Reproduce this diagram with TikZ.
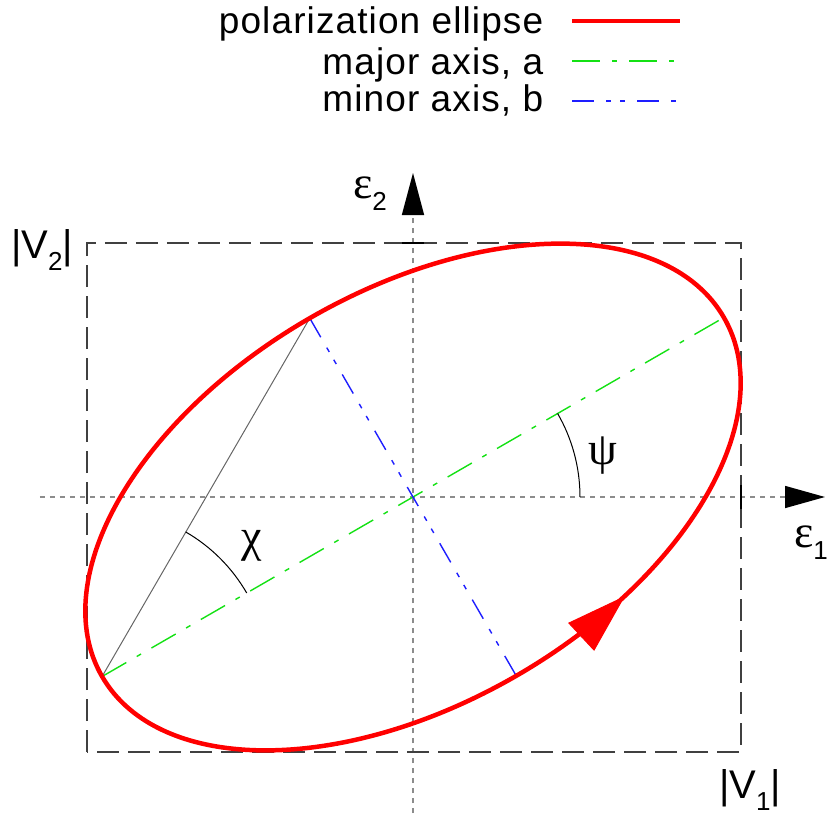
\documentclass[tikz,border=0pt]{standalone}
\usepackage{fontspec}
\setmainfont{Liberation Sans}
\newfontfamily\greekfont{Liberation Serif}
\newfontfamily\legendfont[LetterSpace=3]{Liberation Sans}
\usetikzlibrary{arrows.meta}

\definecolor{majgreen}{RGB}{20,225,20}
\definecolor{minblue}{RGB}{30,30,255}
\newcommand{\lowsub}[1]{\raisebox{-0.3em}{\fontsize{26}{26}\selectfont #1}}
\newcommand{\bigreek}[1]{{\fontsize{46}{50}\selectfont\greekfont #1}}

\tikzset{
  ellipseline/.style={red, line width=4.5pt},
  majorline/.style={majgreen, line width=1.4pt, dash pattern=on 28pt off 12pt on 5pt off 12pt},
  minorline/.style={minblue, line width=1.4pt, dash pattern=on 22pt off 12pt on 5pt off 9pt on 5pt off 12pt},
  axisline/.style={black!45, line width=1.5pt, dash pattern=on 5pt off 5pt},
  boxline/.style={black!75, line width=1.2pt, dash pattern=on 22pt off 9pt},
  legendtext/.style={anchor=base east, font=\fontsize{37}{44}\selectfont\legendfont}
}

\begin{document}
\begin{tikzpicture}[x=1pt,y=1pt,thick,font=\fontsize{40}{48}\selectfont]
\useasboundingbox (-413,-318) rectangle (414,497);
% points of the ellipse
\coordinate (O) at (0,0);
\coordinate (V) at (210:359);
\coordinate (W) at (30:359);
\coordinate (M) at (120:206.5);
\coordinate (N) at (-60:206.5);
% axes
\coordinate (xstart) at (-373,0);
\coordinate (xend) at (412,0);
\coordinate (ystart) at (0,-316);
\coordinate (yend) at (0,324);
\draw[axisline,-{Triangle[length=40pt,width=22pt,color=black]}] (xstart) -- (xend);
\draw[axisline,-{Triangle[length=42pt,width=22pt,color=black]}] (ystart) -- (yend);
% bounding box |V1| x |V2|
\draw[boxline] (-326,-255) rectangle (328,254);
\draw[black, line width=2pt] (-11,254) -- (11,254);
\draw[black, line width=2pt] (328,-12) -- (328,12);
% axes of the ellipse
\draw[majorline] (V) -- (W);
\draw[minorline] (M) -- (N);
\draw[black!60, line width=1pt] (V) -- (M);
% angles
\draw[black, line width=1pt] (V) ++(30:167) arc[start angle=30, end angle=60, radius=167];
\draw[black, line width=1pt] (O) ++(0:167) arc[start angle=0, end angle=30, radius=167];
% polarization ellipse
\draw[ellipseline, rotate=30] (O) ellipse[x radius=359, y radius=206.5];
\coordinate (arrbase) at (168,-140);
\coordinate (arrtip) at (212,-99);
\draw[red, line width=1pt, -{Triangle[length=60pt,width=38pt]}] (arrbase) -- (arrtip);
% labels
\node (eps2) at (-43,303) {\bigreek{ε}\lowsub{2}};
\node (eps1) at (398,-46) {\bigreek{ε}\lowsub{1}};
\node[anchor=base] (v2) at (-371,239) {|V\lowsub{2}|};
\node[anchor=base] (v1) at (337,-301) {|V\lowsub{1}|};
\node (chi) at (-161,-49) {\bigreek{χ}};
\node (psi) at (190,41) {\bigreek{ψ}};
% legend
\node[legendtext] (leg1) at (134,463) {polarization ellipse};
\node[legendtext] (leg2) at (134,422) {major axis, a};
\node[legendtext] (leg3) at (134,385) {minor axis, b};
\draw[ellipseline] (159,476) -- (267,476);
\draw[majorline] (159,436) -- (267,436);
\draw[minorline] (159,396) -- (267,396);
\end{tikzpicture}
\end{document}
